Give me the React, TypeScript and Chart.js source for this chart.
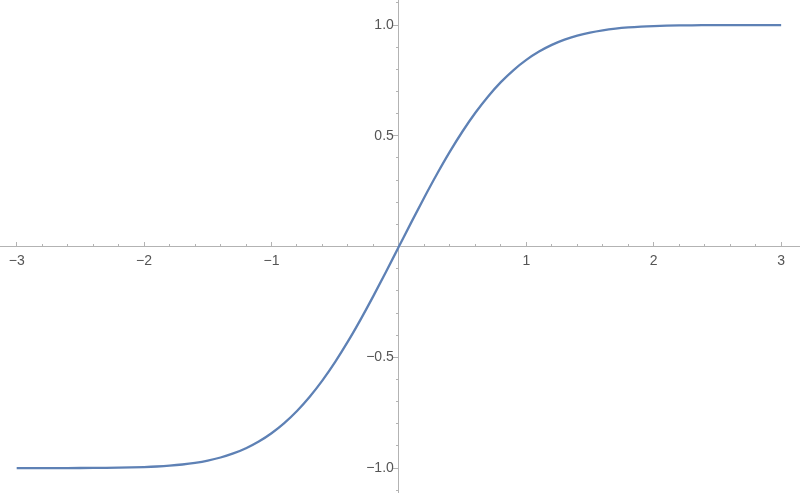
import React, { useEffect, useRef } from "react";
import { Chart, registerables } from "chart.js";

Chart.register(...registerables);

// Sample points (x from -3 to 3, step 0.1)
const xValues = [
  -3.0, -2.9, -2.8, -2.7, -2.6, -2.5, -2.4, -2.3, -2.2, -2.1,
  -2.0, -1.9, -1.8, -1.7, -1.6, -1.5, -1.4, -1.3, -1.2, -1.1,
  -1.0, -0.9, -0.8, -0.7, -0.6, -0.5, -0.4, -0.3, -0.2, -0.1,
  0.0,
  0.1, 0.2, 0.3, 0.4, 0.5, 0.6, 0.7, 0.8, 0.9, 1.0,
  1.1, 1.2, 1.3, 1.4, 1.5, 1.6, 1.7, 1.8, 1.9, 2.0,
  2.1, 2.2, 2.3, 2.4, 2.5, 2.6, 2.7, 2.8, 2.9, 3.0,
];
const yValues = [
  -1.0, -1.0, -0.9999, -0.9999, -0.9998, -0.9996, -0.9993, -0.9989, -0.9981, -0.997,
  -0.9953, -0.9928, -0.9891, -0.9838, -0.9763, -0.9661, -0.9523, -0.934, -0.9103, -0.8802,
  -0.8427, -0.7969, -0.7421, -0.6778, -0.6039, -0.5205, -0.4284, -0.3286, -0.2227, -0.1125,
  0.0,
  0.1125, 0.2227, 0.3286, 0.4284, 0.5205, 0.6039, 0.6778, 0.7421, 0.7969, 0.8427,
  0.8802, 0.9103, 0.934, 0.9523, 0.9661, 0.9763, 0.9838, 0.9891, 0.9928, 0.9953,
  0.997, 0.9981, 0.9989, 0.9993, 0.9996, 0.9998, 0.9999, 0.9999, 1.0, 1.0,
];

const xMajorTicks = [-3, -2, -1, 1, 2, 3];
const xTickLabels = ["\u22123", "\u22122", "\u22121", "1", "2", "3"];
const yMajorTicks = [-1, -0.5, 0.5, 1];
const yTickLabels = ["\u22121.0", "\u22120.5", "0.5", "1.0"];

const X_MIN = -3.131;
const X_MAX = 3.148;
const Y_MIN = -1.108;
const Y_MAX = 1.113;

const AXIS_COLOR = "#b3b3b3";
const LABEL_COLOR = "#555555";
const LINE_COLOR = "#5e81b5";
const FONT = { family: "'Liberation Sans', Arial, sans-serif", size: 14 };

export default function App() {
  const canvasRef = useRef<HTMLCanvasElement | null>(null);

  useEffect(() => {
    document.body.style.margin = "0";
    const canvas = canvasRef.current;
    if (!canvas) return;

    const setTicks = (vals: number[]) => (scale: any) => {
      scale.ticks = vals.map((v) => ({ value: v }));
    };
    const noPad = (scale: any) => {
      scale.paddingTop = 0;
      scale.paddingBottom = 0;
      scale.paddingLeft = 0;
      scale.paddingRight = 0;
    };

    const chart = new Chart(canvas, {
      type: "line",
      data: {
        datasets: [
          {
            data: xValues.map((x, i) => ({ x, y: yValues[i] })),
            borderColor: LINE_COLOR,
            borderWidth: 2.3,
            pointRadius: 0,
            cubicInterpolationMode: "monotone",
            fill: false,
            xAxisID: "x",
            yAxisID: "y",
          },
        ],
      },
      options: {
        responsive: false,
        animation: false,
        events: [],
        layout: { padding: { top: 0, left: 0, right: 0, bottom: 4 } },
        plugins: { legend: { display: false }, tooltip: { enabled: false } },
        scales: {
          x: {
            type: "linear",
            position: { y: 0 } as any,
            min: X_MIN,
            max: X_MAX,
            border: { display: true, color: AXIS_COLOR, width: 1 },
            grid: { display: true, drawOnChartArea: false, drawTicks: true, tickLength: -5, color: AXIS_COLOR, lineWidth: 1 },
            ticks: { display: false },
            afterBuildTicks: setTicks(xMajorTicks),
            afterFit: noPad,
          },
          xMinor: {
            type: "linear",
            position: { y: 0 } as any,
            min: X_MIN,
            max: X_MAX,
            border: { display: false },
            grid: { display: true, drawOnChartArea: false, drawTicks: true, tickLength: -3, color: AXIS_COLOR, lineWidth: 1 },
            ticks: { display: false, stepSize: 0.2, includeBounds: false },
            afterFit: noPad,
          },
          xLabels: {
            type: "linear",
            position: { y: 0 } as any,
            min: X_MIN,
            max: X_MAX,
            border: { display: false },
            grid: { display: false, drawTicks: false, drawOnChartArea: false },
            ticks: {
              display: true,
              autoSkip: false,
              maxRotation: 0,
              minRotation: 0,
              padding: 6,
              font: FONT,
              color: LABEL_COLOR,
              callback: (_v: any, i: number) => xTickLabels[i],
            },
            afterBuildTicks: setTicks(xMajorTicks),
            afterFit: noPad,
          },
          y: {
            type: "linear",
            position: { x: 0 } as any,
            min: Y_MIN,
            max: Y_MAX,
            border: { display: true, color: AXIS_COLOR, width: 1 },
            grid: { display: true, drawOnChartArea: false, drawTicks: true, tickLength: 5, color: AXIS_COLOR, lineWidth: 1 },
            ticks: { display: false },
            afterBuildTicks: setTicks(yMajorTicks),
            afterFit: noPad,
          },
          yMinor: {
            type: "linear",
            position: { x: 0 } as any,
            min: Y_MIN,
            max: Y_MAX,
            border: { display: false },
            grid: { display: true, drawOnChartArea: false, drawTicks: true, tickLength: 3, color: AXIS_COLOR, lineWidth: 1 },
            ticks: { display: false, stepSize: 0.1, includeBounds: false },
            afterFit: noPad,
          },
          yLabels: {
            type: "linear",
            position: { x: -0.04 } as any,
            min: Y_MIN,
            max: Y_MAX,
            border: { display: false },
            grid: { display: false, drawTicks: false, drawOnChartArea: false },
            ticks: {
              display: true,
              autoSkip: false,
              padding: 0,
              font: FONT,
              color: LABEL_COLOR,
              callback: (_v: any, i: number) => yTickLabels[i],
            },
            afterBuildTicks: setTicks(yMajorTicks),
            afterFit: noPad,
          },
        },
      } as any,
    });

    return () => chart.destroy();
  }, []);

  return (
    <div style={{ width: 800, height: 496 }}>
      <canvas ref={canvasRef} width={800} height={496} style={{ display: "block", width: 800, height: 496 }} />
    </div>
  );
}
